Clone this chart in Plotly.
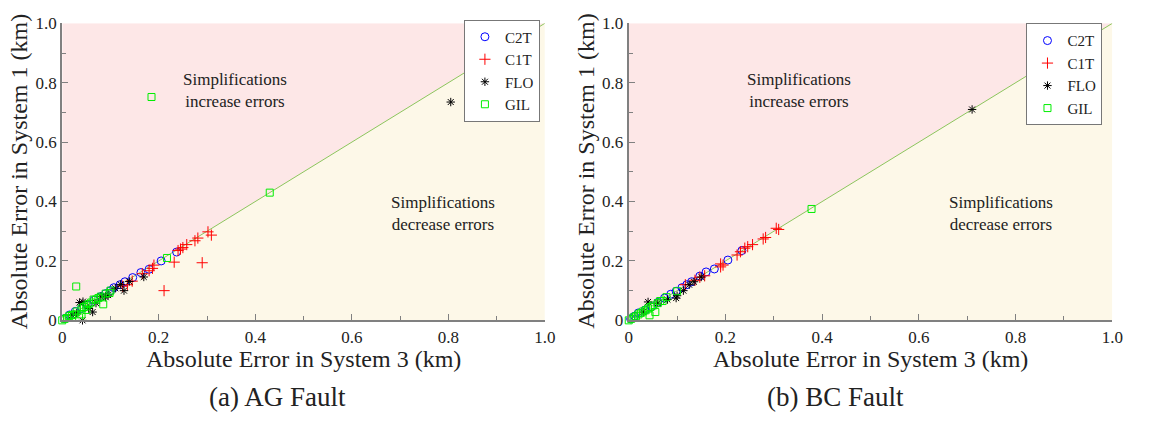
import plotly.graph_objects as go

# ---------------- data ----------------
# (a) AG Fault
ag_c2t_x = [0.237, 0.205, 0.180, 0.163, 0.146, 0.130, 0.120, 0.107, 0.100, 0.090, 0.080, 0.066, 0.052, 0.040, 0.027, 0.015, 0.005]
ag_c2t_y = [0.230, 0.200, 0.172, 0.161, 0.144, 0.130, 0.120, 0.110, 0.100, 0.090, 0.080, 0.068, 0.052, 0.040, 0.030, 0.018, 0.006]

ag_c1t_x = [0.211, 0.290, 0.232, 0.302, 0.309, 0.281, 0.275, 0.258, 0.250, 0.245, 0.240, 0.190, 0.187, 0.180, 0.166, 0.145, 0.135, 0.125]
ag_c1t_y = [0.100, 0.194, 0.196, 0.298, 0.287, 0.277, 0.268, 0.255, 0.245, 0.240, 0.235, 0.186, 0.175, 0.167, 0.157, 0.132, 0.120, 0.115]

ag_flo_x = [0.805, 0.169, 0.128, 0.121, 0.139, 0.090, 0.095, 0.036, 0.043, 0.063, 0.042, 0.055, 0.070, 0.030, 0.080, 0.110, 0.020]
ag_flo_y = [0.735, 0.146, 0.100, 0.121, 0.131, 0.078, 0.085, 0.060, 0.063, 0.028, 0.000, 0.040, 0.058, 0.024, 0.080, 0.108, 0.018]

ag_gil_x = [0.185, 0.430, 0.029, 0.085, 0.217, 0.100, 0.098, 0.000, 0.005, 0.010, 0.015, 0.020, 0.025, 0.030, 0.035, 0.040, 0.045, 0.050, 0.055, 0.060, 0.065, 0.070, 0.075, 0.080, 0.090, 0.040, 0.050]
ag_gil_y = [0.752, 0.430, 0.114, 0.054, 0.210, 0.100, 0.092, 0.000, 0.005, 0.008, 0.015, 0.018, 0.020, 0.030, 0.010, 0.040, 0.045, 0.050, 0.055, 0.060, 0.070, 0.070, 0.075, 0.080, 0.090, 0.020, 0.035]

# (b) BC Fault
bc_c2t_x = [0.234, 0.205, 0.177, 0.160, 0.147, 0.130, 0.120, 0.110, 0.098, 0.087, 0.074, 0.060, 0.047, 0.034, 0.020, 0.012, 0.004]
bc_c2t_y = [0.235, 0.203, 0.173, 0.163, 0.149, 0.130, 0.120, 0.110, 0.098, 0.088, 0.075, 0.060, 0.046, 0.035, 0.025, 0.014, 0.005]

bc_c1t_x = [0.310, 0.305, 0.283, 0.278, 0.256, 0.246, 0.240, 0.231, 0.224, 0.195, 0.190, 0.190, 0.157, 0.147, 0.137, 0.117]
bc_c1t_y = [0.306, 0.310, 0.279, 0.274, 0.255, 0.248, 0.243, 0.231, 0.220, 0.186, 0.180, 0.190, 0.150, 0.145, 0.135, 0.120]

bc_flo_x = [0.710, 0.040, 0.098, 0.100, 0.113, 0.125, 0.135, 0.150, 0.080, 0.060, 0.030]
bc_flo_y = [0.710, 0.062, 0.075, 0.083, 0.100, 0.120, 0.130, 0.146, 0.070, 0.058, 0.028]

bc_gil_x = [0.378, 0.043, 0.055, 0.100, 0.078, 0.070, 0.000, 0.005, 0.010, 0.015, 0.020, 0.025, 0.030, 0.035, 0.040, 0.045, 0.050, 0.060, 0.065]
bc_gil_y = [0.375, 0.017, 0.028, 0.098, 0.078, 0.065, 0.000, 0.005, 0.010, 0.014, 0.020, 0.025, 0.030, 0.034, 0.040, 0.045, 0.050, 0.058, 0.065]

series_names = ["C2T", "C1T", "FLO", "GIL"]
tick_vals = [0, 0.2, 0.4, 0.6, 0.8, 1.0]
tick_text = ["0", "0.2", "0.4", "0.6", "0.8", "1.0"]
axis_min, axis_max = 0.0, 1.0

# ---------------- style ----------------
FONT = "Liberation Serif"
W, H = 1149, 423
styles = {
    "C2T": dict(symbol="circle-open", size=8, color="#0000ff", line=dict(width=1, color="#0000ff")),
    "C1T": dict(symbol="cross-thin-open", size=8, color="#ff0000", line=dict(width=1, color="#ff0000")),
    "FLO": dict(symbol="asterisk-open", size=7, color="#000000", line=dict(width=1, color="#000000")),
    "GIL": dict(symbol="square-open", size=7, color="#00ee00", line=dict(width=1, color="#00ee00")),
}

fig = go.Figure()

panels = [
    dict(xa="x", ya="y", legend="legend",
         data={"C2T": (ag_c2t_x, ag_c2t_y), "C1T": (ag_c1t_x, ag_c1t_y),
               "FLO": (ag_flo_x, ag_flo_y), "GIL": (ag_gil_x, ag_gil_y)}),
    dict(xa="x2", ya="y2", legend="legend2",
         data={"C2T": (bc_c2t_x, bc_c2t_y), "C1T": (bc_c1t_x, bc_c1t_y),
               "FLO": (bc_flo_x, bc_flo_y), "GIL": (bc_gil_x, bc_gil_y)}),
]

for p in panels:
    # background regions
    fig.add_trace(go.Scatter(x=[axis_min, axis_min, axis_max, axis_min], y=[axis_min, axis_max, axis_max, axis_min],
                             fill="toself", fillcolor="#fde7e7", line=dict(width=0), mode="lines",
                             hoverinfo="skip", showlegend=False, xaxis=p["xa"], yaxis=p["ya"]))
    fig.add_trace(go.Scatter(x=[axis_min, axis_max, axis_max, axis_min], y=[axis_min, axis_max, axis_min, axis_min],
                             fill="toself", fillcolor="#fdf8e8", line=dict(width=0), mode="lines",
                             hoverinfo="skip", showlegend=False, xaxis=p["xa"], yaxis=p["ya"]))
    # diagonal
    fig.add_trace(go.Scatter(x=[axis_min, axis_max], y=[axis_min, axis_max], mode="lines",
                             line=dict(color="#8cc45c", width=1), hoverinfo="skip", showlegend=False,
                             xaxis=p["xa"], yaxis=p["ya"]))
    for name in series_names:
        xs, ys = p["data"][name]
        fig.add_trace(go.Scatter(x=xs, y=ys, mode="markers", name=name, marker=styles[name],
                                 cliponaxis=False, xaxis=p["xa"], yaxis=p["ya"], legend=p["legend"]))

ydom = [1 - 326 / H, 1 - 15 / H]
x1dom = [59 / W, 548 / W]
x2dom = [633 / W, 1123 / W]

axis_common = dict(range=[axis_min, axis_max], tickvals=tick_vals, ticktext=tick_text,
                   ticks="inside", ticklen=6, tickcolor="#808080", tickwidth=1,
                   showline=True, linecolor="#808080", linewidth=2,
                   showgrid=False, zeroline=False, fixedrange=True,
                   tickfont=dict(family=FONT, size=17, color="#222"),
                   minor=dict(ticks="inside", ticklen=4, dtick=0.1, tickcolor="#808080", showgrid=False))

legend_common = dict(xanchor="right", yanchor="top", bgcolor="white", bordercolor="#777", borderwidth=1,
                     font=dict(family=FONT, size=15, color="#222"), itemwidth=30)

fig.update_layout(
    width=W, height=H, margin=dict(l=0, r=0, t=0, b=0),
    paper_bgcolor="white", plot_bgcolor="white",
    font=dict(family=FONT, color="#222"),
    xaxis=dict(domain=x1dom, anchor="y", **axis_common),
    yaxis=dict(domain=ydom, anchor="x", **axis_common),
    xaxis2=dict(domain=x2dom, anchor="y2", **axis_common),
    yaxis2=dict(domain=ydom, anchor="x2", **axis_common),
    legend=dict(x=543 / W, y=1 - 11 / H, **legend_common),
    legend2=dict(x=1113 / W, y=1 - 15 / H, **legend_common),
    showlegend=True,
)

ann_font = dict(family=FONT, size=17, color="#222")
title_font = dict(family=FONT, size=24, color="#222")
cap_font = dict(family=FONT, size=27, color="#222")

def txt(x, y, text, font, xref="paper", yref="paper", angle=0):
    return dict(x=x, y=y, xref=xref, yref=yref, text=text, showarrow=False, font=font,
                xanchor="center", yanchor="middle", textangle=angle)

annotations = [
    txt(0.357, 0.773, "Simplifications<br>increase errors", ann_font, "x", "y"),
    txt(0.79, 0.36, "Simplifications<br>decrease errors", ann_font, "x", "y"),
    txt(0.353, 0.773, "Simplifications<br>increase errors", ann_font, "x2", "y2"),
    txt(0.77, 0.36, "Simplifications<br>decrease errors", ann_font, "x2", "y2"),
    txt((59 + 548) / 2 / W, 1 - 366 / H, "Absolute Error in System 3 (km)", title_font),
    txt((633 + 1123) / 2 / W, 1 - 366 / H, "Absolute Error in System 3 (km)", title_font),
    txt(16 / W, 1 - 170 / H, "Absolute Error in System 1 (km)", title_font, angle=-90),
    txt(590 / W, 1 - 170 / H, "Absolute Error in System 1 (km)", title_font, angle=-90),
    txt(277 / W, 1 - 406 / H, "(a) AG Fault", cap_font),
    txt(843 / W, 1 - 406 / H, "(b) BC Fault", cap_font),
]
fig.update_layout(annotations=annotations)

fig.write_html("out.html")
